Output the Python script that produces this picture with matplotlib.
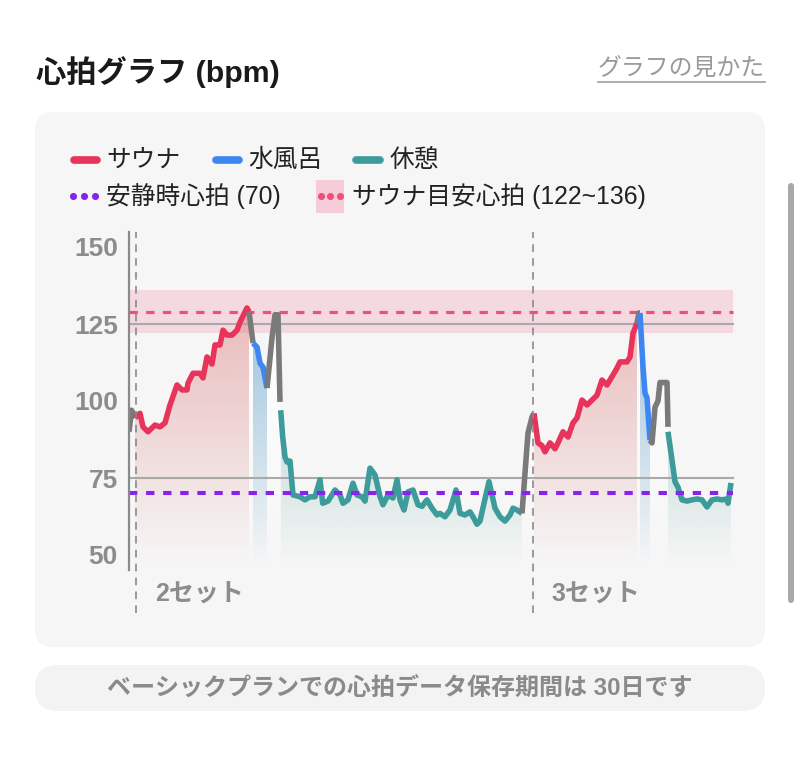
import numpy as np
import matplotlib.pyplot as plt
from matplotlib.patches import FancyBboxPatch, PathPatch, Rectangle
from matplotlib.colors import to_rgb

plt.rcParams['lines.scale_dashes'] = False
JP = ['Liberation Sans', 'Noto Sans CJK JP']
plt.rcParams['font.family'] = JP

# ---- data: position along the session (t) and heart rate (bpm) per phase ----
pre2_t = [0, 2.5, 6]
pre2_bpm = [90, 97, 94.5]

sauna2_t = [6, 11, 14, 19, 26, 31, 36, 41, 48, 53, 58, 59, 64, 71, 74, 78, 83,
            86, 91, 94, 98, 103, 108, 111, 118, 120]
sauna2_bpm = [94.5, 96, 91.6, 90, 92.2, 91.6, 92.9, 98.7, 105.2, 103.6, 103.6,
              105.8, 109, 109, 107.5, 114.3, 112, 118.2, 118.2, 123, 121.4,
              121.4, 123, 125.6, 130.2, 129]

gray2a_t = [120, 122, 124]
gray2a_bpm = [129, 124, 118.8]

water2_t = [124, 128, 131, 134, 138]
water2_bpm = [118.8, 117.5, 112.3, 111, 104.2]

gray2b_t = [138, 143, 146, 149, 151]
gray2b_bpm = [104.2, 120.5, 128, 128, 99.7]

rest2_t = [151.7, 153.7, 156, 158, 161, 164, 171, 176, 181, 186, 191, 193.7,
           199, 206, 211, 214, 219, 224, 228, 233, 236, 241, 246, 251, 254,
           259, 264, 268, 271, 275, 279, 284, 289, 293, 298, 303, 308, 311,
           316, 321, 327, 331, 336, 341, 344, 348, 351, 355, 360, 366, 371,
           376, 381, 384, 388, 393]
rest2_bpm = [97, 88.3, 81.8, 80.2, 80.5, 69.5, 68.9, 67.9, 68.9, 68.9, 74.4,
             66.8, 67.5, 71.1, 69.5, 66.8, 67.9, 73.3, 69.5, 68.9, 67.5, 78.2,
             76, 69, 66.3, 69.5, 68.5, 74.4, 67.9, 64.6, 70.5, 71.1, 66.3, 65.8,
             67.9, 65.2, 63, 63.5, 62.4, 64.6, 71.1, 63.5, 63, 64, 62.4, 60, 61,
             66.8, 73.8, 65.2, 62.4, 61, 63, 65.2, 64.6, 63.5]

gray3a_t = [393, 396, 399, 403, 405]
gray3a_bpm = [63.5, 76.6, 89.6, 94.8, 96]

sauna3_t = [405, 409, 413, 416, 421, 426, 429, 434, 439, 444, 448, 453, 458,
            463, 468, 473, 478, 483, 488, 491, 498, 501, 504, 508]
sauna3_bpm = [96, 86.4, 85.5, 83.5, 86.4, 84.5, 86.4, 90, 88.3, 92.9, 94.5,
              100.3, 98.7, 100.3, 101.9, 106.8, 105.2, 107.9, 110.7, 112.7,
              112.7, 114.3, 122, 125.3]

gray3b_t = [508, 510, 511]
gray3b_bpm = [125.3, 128.6, 128.6]

water3_t = [511, 514, 516, 518, 521]
water3_bpm = [128.6, 111, 102.6, 101, 87.3]

gray3c_t = [521, 523, 526, 529, 531, 538, 539]
gray3c_bpm = [87.3, 86.4, 98, 100, 106, 106, 91.6]

rest3_t = [539, 543, 546, 549, 553, 558, 563, 568, 573, 578, 583, 588, 593,
           598, 599, 602]
rest3_bpm = [90, 80.8, 73.8, 72, 67.9, 67.5, 67.9, 68.2, 67.9, 65.6, 67.9,
             68.2, 67.9, 68.2, 66.8, 73.4]

set_starts = [7.3, 403.7]
set_labels = ['2セット', '3セット']
resting_hr = 70
target_low, target_high = 122, 136
target_mid = 129
yticks = [50, 75, 100, 125, 150]

RED = '#E8335B'
BLUE = '#3D87F2'
TEAL = '#3E9B9B'
GRAY = '#7A7A7A'
PURPLE = '#8822EE'
PINK = '#EE4F7B'

W, H = 800, 764
fig = plt.figure(figsize=(W / 100, H / 100), dpi=100)
fig.patch.set_facecolor('white')

# background canvas in pixel units
bg = fig.add_axes([0, 0, 1, 1])
bg.set_xlim(0, W)
bg.set_ylim(H, 0)
bg.axis('off')

bg.add_patch(FancyBboxPatch((35, 112), 730, 535, boxstyle='round,pad=0,rounding_size=18',
                            fc='#f6f6f6', ec='none'))
bg.add_patch(FancyBboxPatch((35, 665), 730, 46, boxstyle='round,pad=0,rounding_size=23',
                            fc='#f3f3f3', ec='none'))
bg.add_patch(FancyBboxPatch((788, 183), 6, 420, boxstyle='round,pad=0,rounding_size=3',
                            fc='#a9a9a9', ec='none'))

bg.text(36, 72, '心拍グラフ (bpm)', fontsize=21.8, fontweight='bold', color='#1a1a1a',
        ha='left', va='center')
bg.text(765, 70, 'グラフの見かた', fontsize=17.2, color='#9a9a9a', ha='right', va='center')
bg.plot([598, 765], [82, 82], color='#a6a6a6', lw=1.3)

bg.text(400, 689, 'ベーシックプランでの心拍データ保存期間は 30日です', fontsize=17.3,
        fontweight='bold', color='#8a8a8a', ha='center', va='center')

# legend
for x0, x1, lab, col in [(70, 100, 'サウナ', RED), (212, 242, '水風呂', BLUE),
                         (352, 383, '休憩', TEAL)]:
    bg.plot([x0 + 3.5, x1 - 3.5], [160, 160], color=col, lw=5.5, solid_capstyle='round')
    bg.text(x1 + 6, 160, lab, fontsize=17.8, color='#222222', ha='left', va='center')

bg.scatter([73, 84, 95], [196, 196, 196], s=26, color=PURPLE, lw=0)
bg.text(106, 196, '安静時心拍 (70)', fontsize=17.8, color='#222222', ha='left', va='center')
bg.add_patch(Rectangle((316, 180), 28, 33, fc='#f5ccd7', ec='none'))
bg.scatter([320.5, 330, 339.5], [196, 196, 196], s=26, color=PINK, lw=0)
bg.text(352, 196, 'サウナ目安心拍 (122~136)', fontsize=17.8, color='#222222',
        ha='left', va='center')

# ---- main chart ----
PX_PER_BPM = 3.08
Y150 = 247
ax_top, ax_bot = 232, 615
ymax = 150 + (Y150 - ax_top) / PX_PER_BPM
ymin = 150 - (ax_bot - Y150) / PX_PER_BPM
AXIS_BOTTOM = 150 - (570 - Y150) / PX_PER_BPM
FILL_BOTTOM = 46.5
XMAX = 606

ax = fig.add_axes([129 / W, 1 - ax_bot / H, XMAX / W, (ax_bot - ax_top) / H])
ax.set_facecolor('none')
for s in ax.spines.values():
    s.set_visible(False)


def grad_fill(t, bpm, color, a_top, y_top, z):
    poly = ax.fill_between(t, bpm, FILL_BOTTOM, facecolor='none', edgecolor='none')
    patch = PathPatch(poly.get_paths()[0], transform=ax.transData,
                      facecolor='none', edgecolor='none')
    ax.add_patch(patch)
    top = max(max(bpm), y_top)
    ys = np.linspace(FILL_BOTTOM, top, 120)
    alpha = np.clip((ys - FILL_BOTTOM) / (y_top - FILL_BOTTOM), 0, 1) * a_top
    img = np.zeros((len(ys), 2, 4))
    img[..., :3] = to_rgb(color)
    img[..., 3] = alpha[:, None]
    im = ax.imshow(img, extent=[min(t), max(t), FILL_BOTTOM, top], origin='lower',
                   aspect='auto', interpolation='bilinear', zorder=z)
    im.set_clip_path(patch)


ax.axhspan(target_low, target_high, xmin=0, xmax=604 / XMAX, color='#f3c3cf',
           alpha=0.55, lw=0, zorder=1)

fills = [
    (sauna2_t, sauna2_bpm, '#dc7878', 0.47, 130),
    (sauna3_t, sauna3_bpm, '#dc7878', 0.47, 130),
    (water2_t, water2_bpm, '#6eaad2', 0.6, 120),
    (water3_t, water3_bpm, '#6eaad2', 0.6, 120),
    (rest2_t, rest2_bpm, '#5aaaa0', 0.22, 80),
    (rest3_t, rest3_bpm, '#5aaaa0', 0.22, 80),
    (gray2a_t, gray2a_bpm, '#ffffff', 0.85, 110),
    (gray2b_t, gray2b_bpm, '#ffffff', 0.75, 110),
    (gray3a_t, gray3a_bpm, '#ffffff', 0.75, 110),
    (gray3b_t, gray3b_bpm, '#ffffff', 0.85, 110),
    (gray3c_t, gray3c_bpm, '#ffffff', 0.75, 110),
]
for t, b, c, a, yt in fills:
    grad_fill(t, b, c, a, yt, 2)

ax.plot([0, 604], [125, 125], color='#a9a9a9', lw=1.5, zorder=3)
ax.plot([0, 604], [75, 75], color='#a9a9a9', lw=1.5, zorder=3)
ax.plot([0, 604], [target_mid, target_mid], color=PINK, lw=2.3, dashes=(6, 6),
        zorder=3.5)

segments = [
    (pre2_t, pre2_bpm, GRAY), (sauna2_t, sauna2_bpm, RED), (gray2a_t, gray2a_bpm, GRAY),
    (water2_t, water2_bpm, BLUE), (gray2b_t, gray2b_bpm, GRAY), (rest2_t, rest2_bpm, TEAL),
    (gray3a_t, gray3a_bpm, GRAY), (sauna3_t, sauna3_bpm, RED), (gray3b_t, gray3b_bpm, GRAY),
    (water3_t, water3_bpm, BLUE), (gray3c_t, gray3c_bpm, GRAY), (rest3_t, rest3_bpm, TEAL),
]
for t, b, c in segments:
    ax.plot(t, b, color=c, lw=4.0, solid_joinstyle='round', solid_capstyle='butt', zorder=4)

ax.plot([0, 604], [resting_hr, resting_hr], color=PURPLE, lw=2.9, dashes=(6, 6.3),
        zorder=5)

# axis line and set markers
ax.plot([0, 0], [AXIS_BOTTOM, ymax], color='#8a8a8a', lw=1.6, clip_on=False, zorder=6)
for xs, lab in zip(set_starts, set_labels):
    ax.plot([xs, xs], [150 - (613 - Y150) / PX_PER_BPM, ymax], color='#8a8a8a', lw=1.2,
            dashes=(5.5, 4.5), zorder=6)
    ax.text(xs + 19, 150 - (595 - Y150) / PX_PER_BPM, lab, fontsize=18, fontweight='bold',
            color='#8c8c8c', ha='left', va='center')

ax.set_xlim(0, XMAX)
ax.set_ylim(ymin, ymax)
ax.set_xticks([])
ax.set_yticks(yticks)
ax.set_yticklabels([str(v) for v in yticks])
ax.tick_params(axis='y', length=0, pad=8, labelsize=19, labelcolor='#8c8c8c')
for lab in ax.get_yticklabels():
    lab.set_fontweight('bold')

fig.savefig('out.png', dpi=100)
